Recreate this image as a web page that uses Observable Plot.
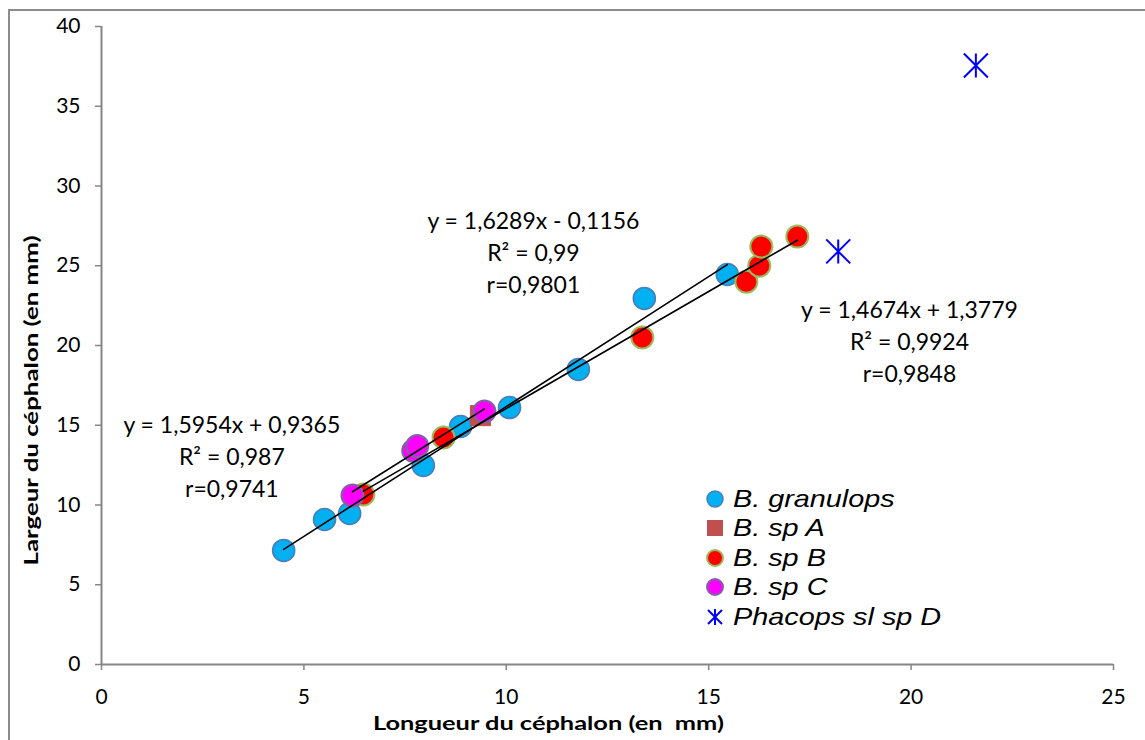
<!DOCTYPE html>
<html>
<head>
<meta charset="utf-8">
<script src="https://cdn.jsdelivr.net/npm/d3@7"></script>
<script src="https://cdn.jsdelivr.net/npm/@observablehq/plot@0.6"></script>
<style>
  html, body { margin: 0; padding: 0; background: #fff; }
  #wrap { position: relative; width: 1145px; height: 740px; overflow: hidden; background: #fff; }
  #wrap svg.chart { position: absolute; left: 0; top: 0; }
  #border { position: absolute; left: 8px; top: 9px; width: 1200px; height: 800px;
            border-left: 2px solid #8c8c8c; border-top: 2px solid #8c8c8c; pointer-events: none; }
  .title { position: absolute; font-family: Lato, "Open Sans", sans-serif; font-weight: bold;
           font-size: 19px; color: #000; white-space: pre; line-height: 1; }
  #legend { position: absolute; left: 705px; top: 484px; font-family: "Liberation Sans", Arial, sans-serif; }
  .lrow { position: relative; height: 29.5px; display: flex; align-items: center; }
  .lrow svg { width: 20px; height: 20px; flex: none; }
  .lrow span { font-style: italic; font-size: 24px; color: #000; white-space: pre;
               display: inline-block; transform: scaleX(1.2); transform-origin: left center; margin-left: 8px; }
</style>
</head>
<body>
<div id="wrap"></div>
<script>
// ---- data ----
const xTicks = [0, 5, 10, 15, 20, 25];
const yTicks = [0, 5, 10, 15, 20, 25, 30, 35, 40];

const seriesNames = ["B. granulops", "B. sp A", "B. sp B", "B. sp C", "Phacops sl sp D"];

const granulopsX = [4.50, 5.51, 6.13, 7.95, 8.87, 10.08, 11.78, 13.41, 15.46];
const granulopsY = [7.15, 9.09, 9.47, 12.48, 14.92, 16.11, 18.50, 22.95, 24.45];

const spAX = [9.36];
const spAY = [15.6];

const spBX = [6.47, 8.45, 13.36, 15.93, 16.25, 16.30, 17.19];
const spBY = [10.66, 14.23, 20.50, 24.00, 25.00, 26.20, 26.83];

const spCX = [6.20, 7.70, 7.80, 9.46];
const spCY = [10.60, 13.40, 13.70, 15.86];

const phacopsX = [18.2, 21.6];
const phacopsY = [25.9, 37.55];

// trendlines (coefficients as shown on the chart)
const trendSeries = ["B. sp C", "B. granulops", "B. sp B"];
const trendSlopes = [1.5954, 1.6289, 1.4674];
const trendIntercepts = [0.9365, -0.1156, 1.3779];
const trendLabels = [
  "y = 1,5954x + 0,9365\nR² = 0,987\nr=0,9741",
  "y = 1,6289x - 0,1156\nR² = 0,99\nr=0,9801",
  "y = 1,4674x + 1,3779\nR² = 0,9924\nr=0,9848"
];

const xTitle = "Longueur du céphalon (en  mm)";
const yTitle = "Largeur du céphalon (en mm)";

// ---- layout (positions of annotations, in data units) ----
const labelAtX = [3.22, 10.67, 19.96];
const labelAtY = [13.15, 25.95, 20.35];

// ---- build tables ----
const zip = (xs, ys) => xs.map((x, i) => ({x, y: ys[i]}));
const granulops = zip(granulopsX, granulopsY);
const spA = zip(spAX, spAY);
const spB = zip(spBX, spBY);
const spC = zip(spCX, spCY);
const phacops = zip(phacopsX, phacopsY);
const byName = {"B. granulops": granulopsX, "B. sp B": spBX, "B. sp C": spCX};

const trendLines = trendSeries.flatMap((name, i) => {
  const xs = byName[name];
  const x0 = d3.min(xs), x1 = d3.max(xs);
  return [x0, x1].map(x => ({series: name, x, y: trendSlopes[i] * x + trendIntercepts[i]}));
});
const labels = trendLabels.map((t, i) => ({text: t, x: labelAtX[i], y: labelAtY[i]}));

const asterisk = {
  draw(context, size) {
    const r = Math.sqrt(size / Math.PI);
    context.moveTo(0, -r); context.lineTo(0, r);
    context.moveTo(-r, -r); context.lineTo(r, r);
    context.moveTo(-r, r); context.lineTo(r, -r);
  }
};

const axisGray = "#868686";

const chart = Plot.plot({
  width: 1145,
  height: 740,
  marginLeft: 101,
  marginRight: 32,
  marginTop: 26,
  marginBottom: 76,
  x: {domain: [0, 25]},
  y: {domain: [0, 40]},
  style: {fontFamily: "Lato, 'Open Sans', sans-serif", fontSize: "21px", color: "#000", background: "transparent", overflow: "visible"},
  marks: [
    Plot.axisX(xTicks, {tickSize: 6, tickPadding: 19, stroke: axisGray, strokeWidth: 1.5, fill: "#000", label: null, fontSize: 21}),
    Plot.axisY(yTicks, {tickSize: 6, tickPadding: 15, stroke: axisGray, strokeWidth: 1.5, fill: "#000", label: null, fontSize: 21}),
    Plot.ruleY([0], {stroke: axisGray, strokeWidth: 2}),
    Plot.ruleX([0], {stroke: axisGray, strokeWidth: 2}),
    Plot.dot(granulops, {x: "x", y: "y", r: 11, fill: "#00B0F0", stroke: "#4A7EBB", strokeWidth: 1.6}),
    Plot.dot(spA, {x: "x", y: "y", r: 11.3, symbol: "square", fill: "#C0504D", stroke: "#B9504D", strokeWidth: 1}),
    Plot.dot(spB, {x: "x", y: "y", r: 11, fill: "#FF0000", stroke: "#9BBB59", strokeWidth: 2}),
    Plot.dot(spC, {x: "x", y: "y", r: 11, fill: "#FF00FF", stroke: "#8064A2", strokeWidth: 2}),
    Plot.dot(phacops, {x: "x", y: "y", r: 12, symbol: asterisk, fill: "none", stroke: "#0000FF", strokeWidth: 2}),
    Plot.line(trendLines, {x: "x", y: "y", z: "series", stroke: "#000", strokeWidth: 1.6}),
    Plot.text(labels, {x: "x", y: "y", text: "text", fontSize: 23, fontFamily: "Lato, 'Open Sans', sans-serif", fill: "#000", lineHeight: 1.4, textAnchor: "middle"})
  ]
});
chart.classList.add("chart");

const wrap = document.getElementById("wrap");
wrap.appendChild(chart);

const border = document.createElement("div");
border.id = "border";
wrap.appendChild(border);

// axis titles
function fit(el, targetW) {
  const w = el.getBoundingClientRect().width;
  return targetW / w;
}
const xt = document.createElement("div");
xt.className = "title";
xt.textContent = xTitle;
wrap.appendChild(xt);
{
  const s = fit(xt, 351);
  xt.style.left = (548 - xt.offsetWidth / 2) + "px";
  xt.style.top = (722 - xt.offsetHeight / 2) + "px";
  xt.style.transform = `scaleX(${s})`;
  xt.style.transformOrigin = "center center";
}
const yt = document.createElement("div");
yt.className = "title";
yt.textContent = yTitle;
wrap.appendChild(yt);
{
  const s = fit(yt, 330);
  yt.style.left = (30 - yt.offsetWidth / 2) + "px";
  yt.style.top = (400 - yt.offsetHeight / 2) + "px";
  yt.style.transform = `rotate(-90deg) scaleX(${s})`;
  yt.style.transformOrigin = "center center";
}

// legend
const legendMarkers = [
  `<circle cx="10" cy="10" r="8" fill="#00B0F0" stroke="#4A7EBB" stroke-width="1.5"/>`,
  `<rect x="2" y="2" width="16" height="16" fill="#C0504D"/>`,
  `<circle cx="10" cy="10" r="8" fill="#FF0000" stroke="#9BBB59" stroke-width="2"/>`,
  `<circle cx="10" cy="10" r="8" fill="#FF00FF" stroke="#8064A2" stroke-width="2"/>`,
  `<path d="M10,2V18M3,3L17,17M3,17L17,3" stroke="#0000FF" stroke-width="2" fill="none"/>`
];
const legend = document.createElement("div");
legend.id = "legend";
legend.innerHTML = seriesNames.map((n, i) =>
  `<div class="lrow"><svg viewBox="0 0 20 20">${legendMarkers[i]}</svg><span>${n}</span></div>`).join("");
wrap.appendChild(legend);
</script>
</body>
</html>
